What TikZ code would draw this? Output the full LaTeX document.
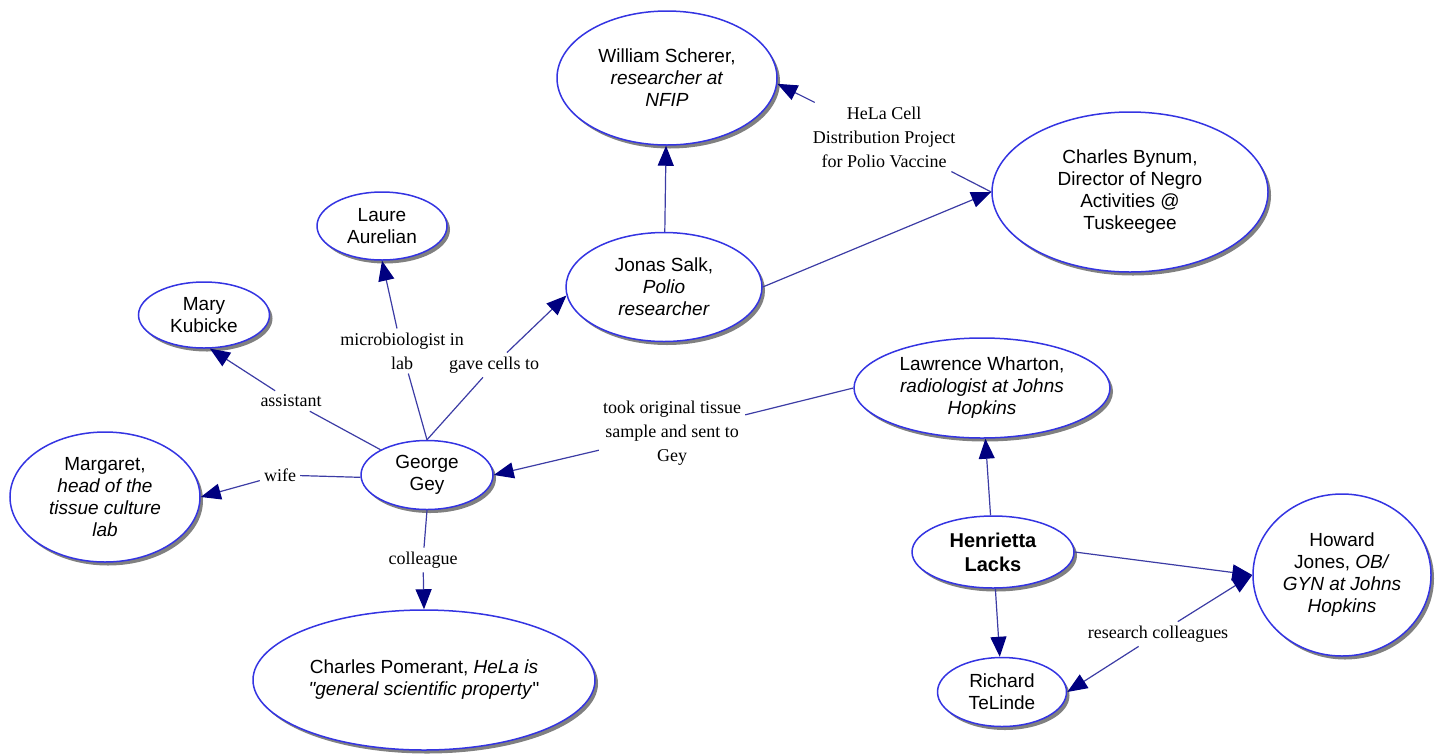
\documentclass[tikz,border=0pt]{standalone}
\usepackage{fontspec}
\setmainfont{Liberation Serif}
\setsansfont{Liberation Sans}
\usetikzlibrary{shapes,arrows.meta,shadows}
\definecolor{conceptblue}{RGB}{52,52,226}
\definecolor{linkblue}{RGB}{60,60,165}
\definecolor{tipnavy}{RGB}{0,0,128}

\begin{document}
\begin{tikzpicture}[x=1pt, y=-1pt, concept/.style={ellipse, draw=conceptblue, line width=1.5pt, fill=white, inner sep=0pt, align=center, text centered, font=\sffamily\fontsize{19}{22}\selectfont, drop shadow={shadow xshift=3pt, shadow yshift=-3.5pt, fill=black!50, opacity=1}}, phrase/.style={align=center, inner sep=4pt, font=\fontsize{18}{24}\selectfont}, joint/.style={draw=linkblue, line width=1.2pt}, pointer/.style={joint, -{Triangle[length=20pt, width=16pt, color=tipnavy]}}]

\useasboundingbox (0,0) rectangle (1445,753);

% CONCEPTS

\node [concept, minimum width=220pt, minimum height=134pt] (william) at (667,78)
{William Scherer,\\ \textit{researcher at}\\ \textit{NFIP}};

\node [concept, minimum width=276pt, minimum height=160pt] (bynum) at (1130,192)
{Charles Bynum,\\ Director of Negro\\ Activities @\\ Tuskeegee};

\node [concept, minimum width=130pt, minimum height=68pt] (laure) at (382,226)
{Laure\\ Aurelian};

\node [concept, minimum width=196pt, minimum height=109pt] (jonas) at (664,287)
{Jonas Salk,\\ \textit{Polio}\\ \textit{researcher}};

\node [concept, minimum width=131pt, minimum height=66pt] (mary) at (204,315)
{Mary\\ Kubicke};

\node [concept, minimum width=132pt, minimum height=69pt] (george) at (427,475)
{George\\ Gey};

\node [concept, minimum width=190pt, minimum height=130pt] (margaret) at (105,497)
{Margaret,\\ \textit{head of the}\\ \textit{tissue culture}\\ \textit{lab}};

\node [concept, minimum width=342pt, minimum height=140pt] (pomerant) at (424,680)
{Charles Pomerant, \textit{HeLa is}\\ \textit{\textquotedbl general scientific property}\textquotedbl};

\node [concept, minimum width=256pt, minimum height=100pt] (lawrence) at (982,388)
{Lawrence Wharton,\\ \textit{radiologist at Johns}\\ \textit{Hopkins}};

\node [concept, minimum width=162pt, minimum height=72pt, font=\sffamily\bfseries\fontsize{20}{24}\selectfont] (henrietta) at (993,552)
{Henrietta\\ Lacks};

\node [concept, minimum width=178pt, minimum height=162pt] (howard) at (1342,575)
{Howard\\ Jones, \textit{OB/}\\ \textit{GYN at Johns}\\ \textit{Hopkins}};

\node [concept, minimum width=129pt, minimum height=69pt] (richard) at (1002,692)
{Richard\\ TeLinde};

% LINKING PHRASES

\node [phrase] (hela) at (884,137) {HeLa Cell\\ Distribution Project\\ for Polio Vaccine};
\node [phrase] (microbiologist) at (402,351) {microbiologist in\\ lab};
\node [phrase] (gave) at (494,365) {gave cells to};
\node [phrase] (assistant) at (291,401) {assistant};
\node [phrase] (wife) at (280,475) {wife};
\node [phrase] (colleague) at (423,560) {colleague};
\node [phrase] (took) at (672,433) {took original tissue\\ sample and sent to\\ Gey};
\node [phrase] (research) at (1158,634) {research colleagues};

% CONNECTIONS

\draw [pointer] (jonas) -- (william);
\draw [joint] (bynum.west) -- (hela);
\draw [pointer] (hela) -- (william.-3);
\draw [pointer] (jonas.east) -- (bynum.west);

\draw [joint] (george.north) -- (microbiologist);
\draw [pointer] (microbiologist) -- (laure.south);
\draw [joint] (george.north) -- (gave);
\draw [pointer] (gave) -- (jonas.185);
\draw [joint] (george) -- (assistant);
\draw [pointer] (assistant) -- (mary.-80);
\draw [joint] (george.182) -- (wife);
\draw [pointer] (wife) -- (margaret.east);
\draw [joint] (george.south) -- (colleague);
\draw [pointer] (colleague) -- (pomerant.north);

\draw [joint] (lawrence.west) -- (took);
\draw [pointer] (took) -- (george.east);

\draw [pointer] (henrietta) -- (lawrence);
\draw [pointer] (henrietta.east) -- (howard.west);
\draw [pointer] (henrietta) -- (richard);
\draw [pointer] (research) -- (richard.east);
\draw [pointer] (research) -- (howard.west);

\end{tikzpicture}
\end{document}
